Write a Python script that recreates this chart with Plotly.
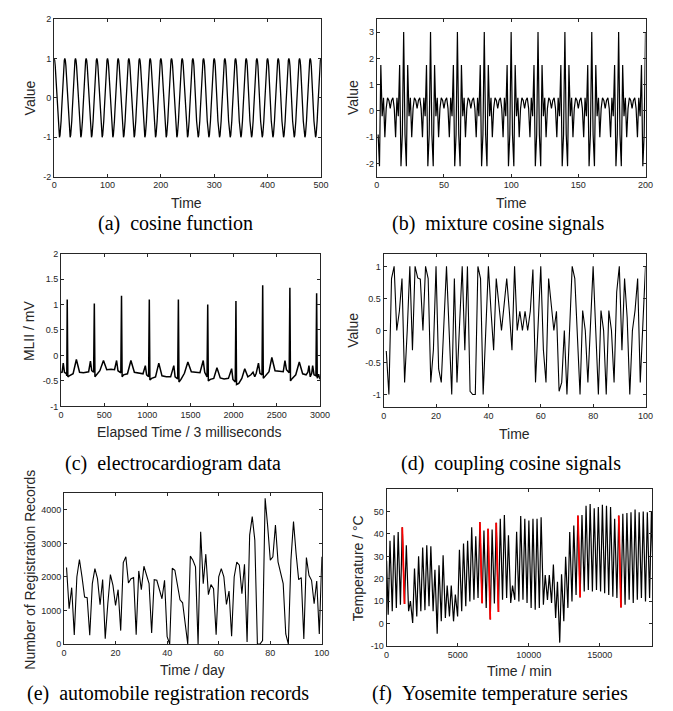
import plotly.graph_objects as go

W, H = 673, 711

# ---------------- data ----------------
# (a) cosine function: one period (20 samples), 25 periods
a_cycle = [1.0, 0.95, 0.81, 0.59, 0.31, 0.0, -0.31, -0.59, -0.81, -0.95,
           -1.0, -0.95, -0.81, -0.59, -0.31, 0.0, 0.31, 0.59, 0.81, 0.95]
a_periods = 25
a_y = a_cycle * a_periods + [1.0]
a_x = list(range(len(a_y)))

# (b) mixture cosine signals: one period (t mod 20)
b_cycle = [3.0, -0.9, -2.1, 1.75, -0.2, 0.5, -1.0, 0.1, 0.5, 0.4,
           0.1, 0.4, 0.5, 0.1, -1.0, 0.5, -0.2, 1.75, -2.1, -0.9]
b_x = list(range(1, 201))
b_y = [b_cycle[t % 20] for t in b_x]

# (c) electrocardiogram (MLII, mV) key samples
ecg_t = [0, 12, 26, 40, 62, 67, 72, 79, 95, 140, 178, 215, 260, 300,
         320, 341, 356, 378, 386, 393, 410, 450, 492, 530, 580, 620,
         644, 660, 693, 701, 708, 725, 770, 810, 850, 900, 950,
         977, 992, 1015, 1023, 1030, 1050, 1095, 1133, 1170, 1220, 1270,
         1307, 1322, 1352, 1360, 1367, 1390, 1430, 1470, 1510, 1560, 1610,
         1648, 1665, 1692, 1700, 1707, 1730, 1770, 1807, 1845, 1890, 1940,
         1977, 1992, 2019, 2027, 2034, 2060, 2095, 2129, 2165, 2200, 2225, 2245, 2262,
         2288, 2305, 2329, 2337, 2344, 2370, 2410, 2443, 2480, 2530, 2575,
         2595, 2612, 2644, 2652, 2659, 2680, 2720, 2761, 2800, 2840, 2860,
         2873, 2888, 2905, 2916, 2932, 2954, 2962, 2969, 2985, 3000]
ecg_v = [-0.32, -0.34, -0.15, -0.33, -0.36, -0.40, 1.10, -0.42, -0.40, -0.36, -0.08, -0.33, -0.34, -0.33,
         -0.32, -0.11, -0.30, -0.33, 1.02, -0.42, -0.38, -0.30, -0.10, -0.28, -0.27, -0.28,
         -0.10, -0.30, -0.34, 1.17, -0.42, -0.38, -0.36, -0.10, -0.33, -0.35, -0.36,
         -0.20, -0.38, -0.42, 1.10, -0.48, -0.45, -0.42, -0.15, -0.40, -0.42, -0.42,
         -0.20, -0.42, -0.46, 1.10, -0.52, -0.47, -0.35, -0.13, -0.32, -0.33, -0.34,
         -0.10, -0.33, -0.42, 1.00, -0.50, -0.47, -0.45, -0.24, -0.44, -0.46, -0.45,
         -0.26, -0.47, -0.52, 1.07, -0.57, -0.55, -0.45, -0.26, -0.42, -0.38, -0.33, -0.42, -0.35,
         -0.15, -0.35, -0.38, 1.38, -0.45, -0.40, -0.32, -0.04, -0.30, -0.31, -0.32,
         -0.10, -0.28, -0.34, 1.33, -0.50, -0.45, -0.38, -0.13, -0.36, -0.38, -0.33,
         -0.20, -0.42, -0.35, -0.20, -0.38, -0.40, 1.22, -0.45, -0.37, -0.47]

# (d) coupling cosine signals, t = 1..100
d_y = [-0.32, -1.0, 0.81, 1.0, 0.0, 0.3, 0.81, -0.81, 0.0, 1.0,
       -0.31, 1.0, 0.82, 0.8, 0.0, 1.0, 0.81, -0.81, -0.3, 1.0,
       -0.6, -0.81, 0.1, 1.0, 0.0, -1.0, 0.81, -0.81, 0.1, 1.0,
       -0.31, 1.0, -0.95, -1.0, -1.0, 1.0, 0.81, -1.0, 0.0, 1.0,
       0.3, -0.31, 0.81, 0.4, 0.0, 0.4, 0.81, 0.3, -0.31, 1.0,
       0.0, 0.3, 0.0, 0.3, 0.0, 0.3, 0.95, -0.81, 0.1, 1.0,
       -0.3, -0.81, 0.81, 0.35, 0.0, 0.3, -0.95, -0.81, 0.0, -1.0,
       0.1, 1.0, 0.81, 0.0, -1.0, 0.31, 0.0, -0.81, 0.1, 1.0,
       0.0, -1.0, 0.31, 0.0, -1.0, 0.31, 0.0, -0.81, 0.6, 1.0,
       -0.31, 0.81, 0.2, -1.0, 0.0, 0.31, 0.81, -0.81, 0.1, 1.0]
d_x = list(range(1, len(d_y) + 1))

# (e) automobile registration records, day 1..100
e_y = [2280, 1050, 1680, 270, 2000, 2520, 2000, 1400, 1380, 260,
       1800, 2250, 1950, 1170, 1920, 160, 1200, 2070, 1750, 1150,
       1620, 400, 2430, 2600, 1820, 1950, 1980, 280, 2180, 1620,
       2320, 2080, 1800, 330, 1920, 1900, 1650, 1350, 1900, 220,
       0, 2260, 2200, 1750, 1320, 1230, 550, 0, 2620, 2500,
       2300, 0, 3350, 1800, 2680, 1470, 1770, 1650, 280, 2000,
       2250, 2000, 1180, 1580, 230, 2000, 2440, 2350, 1500, 2380,
       60, 3250, 3800, 3100, 0, 0, 100, 4350, 3500, 2500,
       2600, 3550, 2450, 2100, 1800, 300, 0, 2500, 3650, 2700,
       1920, 1980, 150, 2580, 2050, 1900, 1200, 1880, 300, 2600]
e_x = list(range(1, len(e_y) + 1))

# (f) Yosemite temperature: daily maxima / minima
f_start = 28.0
f_peaks = [37, 39.4, 40.9, 43, 35, 10, 24.6, 30, 34, 35, 34.5, 24, 26, 30.5, 17, 17, 13, 33,
           35.7, 37, 43, 39, 45.3, 41.6, 42.3, 42, 45, 46.8, 48.5, 39.4, 17, 41, 48, 46.8,
           46, 46.8, 46.8, 47.5, 21.7, 21.7, 26.4, 18.7, 22, 29.8, 40.9, 43.8, 48.2, 48.5,
           52.6, 53.4, 51.5, 52, 53, 52.6, 52, 46.8, 48.2, 49, 49.4, 49.7, 50.9, 49.7, 50,
           49.7, 50]
f_troughs = [4, 5.5, 7, 8.4, 8.7, 5.5, 0.3, 3.2, 5.5, 6, 7.7, 5.5, -4.5, 1, 2.5, 3.2, 1,
             3.2, 5.5, 7.7, 9.9, 10.6, 11.4, 9.1, 7, 1.8, 9, 5.2, 10.6, 11.4, 9.2, 10.6, 9.9,
             10.6, 9.2, 7, 6.2, 7, 8.4, 10.6, 9.2, 2.5, -8.5, 1, 7, 9.9, 12.8, 11.7, 14.3,
             15, 14.3, 15, 14.3, 13.6, 12.8, 12, 11.4, 7.2, 8.4, 10.6, 9.2, 10.6, 11.4, 9.9,
             11.4, 12]
f_red_days = [3, 22, 24, 26, 46, 56]
f_day_len = 287.4      # samples per daily cycle
f_first_trough = 111   # sample index of first minimum
f_rise = 128           # samples from minimum to maximum

# ---------------- build (f) series ----------------
f_x, f_y = [0], [f_start]
for j, tv in enumerate(f_troughs):
    t0 = f_first_trough + f_day_len * j
    f_x.append(t0); f_y.append(tv)
    if j < len(f_peaks):
        f_x.append(t0 + f_rise); f_y.append(f_peaks[j])

# ---------------- layout helpers ----------------
def fx(px):
    return px / W

def fy(py):
    return 1 - py / H

panels = [  # left, right, top, bottom (pixels)
    (44, 316, 6, 166),
    (373, 647, 6, 166),
    (51, 315, 244, 399),
    (380, 647, 244, 400),
    (54, 317, 487, 640),
    (383, 654, 483, 642),
]

AX = '#262626'
tick_font = dict(family='Liberation Sans, Arial, sans-serif', size=9, color=AX)

def axis_style(**kw):
    d = dict(showline=True, linecolor=AX, linewidth=1, mirror='ticks',
             ticks='inside', ticklen=3, tickwidth=1, tickcolor=AX,
             showgrid=False, zeroline=False, tickfont=tick_font)
    d.update(kw)
    return d

xranges = [[0, 500], [0, 200], [0, 3000], [0, 100], [0, 100], [0, 18700]]
yranges = [[-2, 2], [-2.5, 3.5], [-1, 2], [-1.2, 1.2], [0, 4500], [-10, 60]]
xticks = [[0, 100, 200, 300, 400, 500], [0, 50, 100, 150, 200],
          [0, 500, 1000, 1500, 2000, 2500, 3000], [0, 20, 40, 60, 80, 100],
          [0, 20, 40, 60, 80, 100], [0, 5000, 10000, 15000]]
yticks = [[-2, -1, 0, 1, 2], [-2, -1, 0, 1, 2, 3],
          [-1, -0.5, 0, 0.5, 1, 1.5, 2], [-1, -0.5, 0, 0.5, 1],
          [0, 1000, 2000, 3000, 4000], [-10, 0, 10, 20, 30, 40, 50]]

def fmt(v):
    return ('%g' % v)

fig = go.Figure()

series = [(a_x, a_y, 1.3), (b_x, b_y, 1.2), (ecg_t, ecg_v, 1.5),
          (d_x, d_y, 1.1), (e_x, e_y, 1.1), (f_x, f_y, 1.2)]
for i, (xs, ys, lw) in enumerate(series):
    n = '' if i == 0 else str(i + 1)
    fig.add_trace(go.Scatter(x=xs, y=ys, mode='lines', line=dict(color='black', width=lw),
                             xaxis='x' + n, yaxis='y' + n, showlegend=False, hoverinfo='skip'))

# red highlighted daily segments in (f)
for dday in f_red_days:
    t_peak = f_first_trough + f_day_len * dday + f_rise
    t_next = f_first_trough + f_day_len * (dday + 1)
    fig.add_trace(go.Scatter(x=[t_peak, t_next], y=[f_peaks[dday], f_troughs[dday + 1]],
                             mode='lines', line=dict(color='#ff0000', width=1.8),
                             xaxis='x6', yaxis='y6', showlegend=False, hoverinfo='skip'))

layout = dict(width=W, height=H, margin=dict(l=0, r=0, t=0, b=0),
              paper_bgcolor='white', plot_bgcolor='white', showlegend=False)
for i, (l, r, t, b) in enumerate(panels):
    n = '' if i == 0 else str(i + 1)
    layout['xaxis' + n] = axis_style(domain=[fx(l), fx(r)], range=xranges[i],
                                     anchor='y' + n, tickvals=xticks[i],
                                     ticktext=[fmt(v) for v in xticks[i]])
    layout['yaxis' + n] = axis_style(domain=[fy(b), fy(t)], range=yranges[i],
                                     anchor='x' + n, tickvals=yticks[i],
                                     ticktext=[fmt(v) for v in yticks[i]])
fig.update_layout(**layout)

title_font = dict(family='Liberation Sans, Arial, sans-serif', size=14, color=AX)
cap_font = dict(family='Liberation Serif, Times New Roman, serif', size=20, color='black')

NB = '\u00a0'
xtitles = [('Time', 179, 193), ('Time', 510, 193), ('Elapsed Time / 3 milliseconds', 182, 425),
           ('Time', 513, 427), ('Time / day', 185, 666), ('Time / min', 519, 667)]
ytitles = [('Value', 19, 86), ('Value', 349, 86), ('MLII / mV', 19, 322),
           ('Value', 349, 322), ('Number of Registration Records', 19, 565),
           ('Temperature / °C', 354, 563)]
captions = [('(a)' + NB * 2 + 'cosine function', 168, 213),
            ('(b)' + NB * 2 + 'mixture cosine signals', 497, 213),
            ('(c)' + NB * 2 + 'electrocardiogram data', 165, 457),
            ('(d)' + NB * 2 + 'coupling cosine signals', 510, 457),
            ('(e)' + NB * 2 + 'automobile registration records', 160, 690),
            ('(f)' + NB * 2 + 'Yosemite temperature series', 499, 690)]

anns = []
for txt, x, y in xtitles:
    anns.append(dict(text=txt, x=fx(x), y=fy(y), xref='paper', yref='paper', showarrow=False,
                     xanchor='center', yanchor='middle', font=title_font))
for txt, x, y in ytitles:
    anns.append(dict(text=txt, x=fx(x), y=fy(y), xref='paper', yref='paper', showarrow=False,
                     xanchor='center', yanchor='middle', textangle=-90, font=title_font))
for txt, x, y in captions:
    anns.append(dict(text=txt, x=fx(x), y=fy(y), xref='paper',
                     yref='paper', showarrow=False, xanchor='center', yanchor='middle',
                     font=cap_font))
fig.update_layout(annotations=anns)

fig.write_html('out.html')
